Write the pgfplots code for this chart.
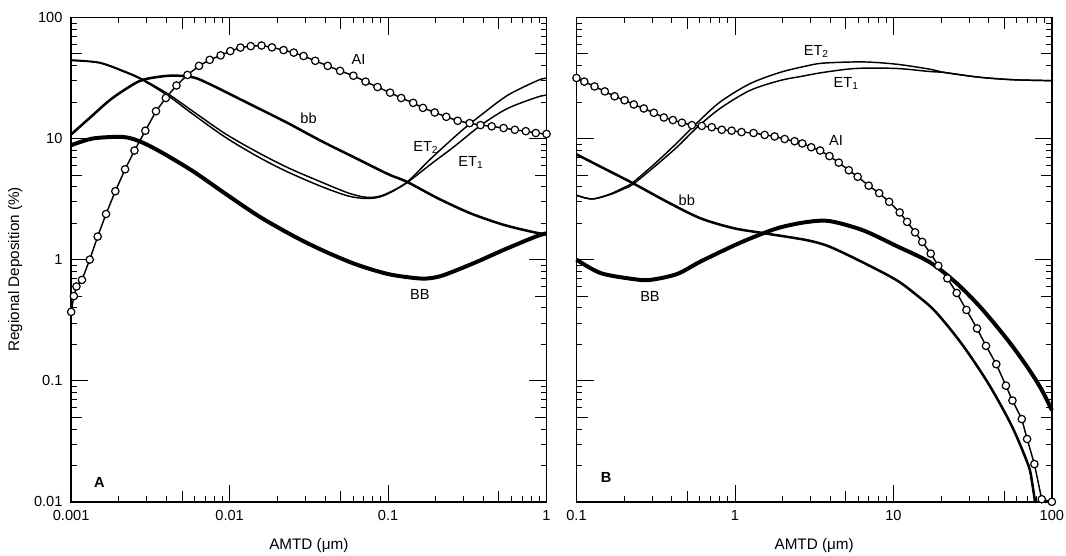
\documentclass[border=0pt]{standalone}
\usepackage{fontspec}
\setmainfont{Liberation Sans}
\usepackage{pgfplots}
\pgfplotsset{compat=1.18}
\pgfplotsset{
  panel/.style={
    scale only axis, width=358.1pt, height=364.9pt, anchor=south west,
    ymin=0.01, ymax=100,
    clip=false,
    axis line style={line width=1.3pt, black},
    tick align=inside,
    major tick length=13pt, minor tick length=4.5pt,
    tick style={line width=0.6pt, black},
    ytick={0.01,0.1,1,10,100},
    extra y ticks={0.05,0.5,5,50},
    extra y tick labels={},
    extra y tick style={major tick length=8.5pt},
    tick label style={font=\fontsize{11}{13}\selectfont},
    label style={font=\fontsize{11.5}{13}\selectfont},
    xlabel={AMTD (μm)},
    xlabel style={at={(axis description cs:0.5,-0.0904)}, anchor=center},
    xticklabel style={yshift=-3pt},
    yticklabel style={xshift=-3pt},
  },
  BBs/.style={black, line width=3pt, smooth, tension=0.5},
  bbs/.style={black, line width=1.9pt, smooth, tension=0.5},
  ETs/.style={black, line width=1.1pt, smooth, tension=0.5},
  AIs/.style={black, line width=1.1pt, mark=*, mark size=2.8pt,
     mark options={fill=white, draw=black, line width=0.9pt}},
}
\tikzset{lab/.style={font=\fontsize{11}{13}\selectfont}}
\begin{document}
\begin{tikzpicture}
% ---------------- Panel A ----------------
\begin{loglogaxis}[panel, at={(53.6pt,40.5pt)},
  xmin=0.001, xmax=1,
  xtick={0.001,0.01,0.1,1}, xticklabels={0.001,0.01,0.1,1},
  extra x ticks={0.005,0.05,0.5}, extra x tick labels={},
  extra x tick style={major tick length=8.5pt},
  yticklabels={0.01,0.1,1,10,100},
  ylabel={Regional Deposition (\%)},
  ylabel style={at={(axis description cs:-0.118,0.48)}, anchor=center},
]
% BB
\addplot[BBs] coordinates {
(0.001,8.8) (0.00137,10.0) (0.00211,10.3) (0.00269,9.5) (0.0036,7.87)
(0.00582,5.41) (0.00944,3.49) (0.0153,2.28) (0.025,1.58) (0.0382,1.2)
(0.0618,0.92) (0.1,0.76) (0.155,0.70) (0.188,0.705) (0.228,0.75)
(0.351,0.94) (0.542,1.21) (0.855,1.55) (1,1.65)};
% bb
\addplot[bbs] coordinates {
(0.001,10.8) (0.00137,15.6) (0.00175,20.7) (0.00222,25.7) (0.00283,30.5)
(0.00416,33.0) (0.00582,32.1) (0.00742,28.3) (0.012,20.7) (0.0195,15.1)
(0.0236,13.3) (0.0382,9.48) (0.0618,6.94) (0.1,5.08) (0.131,4.4)
(0.207,3.2) (0.334,2.40) (0.542,1.93) (0.855,1.67) (1,1.62)};
% ET2
\addplot[ETs] coordinates {
(0.001,44.5) (0.00151,42.5) (0.00222,35.5) (0.00283,30.8) (0.00416,23.0)
(0.00582,16.9) (0.00944,10.9) (0.0153,7.6) (0.0236,5.7) (0.0382,4.35)
(0.0561,3.55) (0.0714,3.28) (0.085,3.3) (0.1,3.55) (0.131,4.34) (0.188,6.9)
(0.289,11.5) (0.386,15.6) (0.567,22.7) (0.877,30.1) (1,31.5)};
% ET1
\addplot[ETs] coordinates {
(0.001,44) (0.00151,42) (0.00222,35) (0.00283,30.3) (0.00416,22.2)
(0.00582,16.0) (0.00944,10.2) (0.0153,7.0) (0.0236,5.25) (0.0382,4.0)
(0.0561,3.35) (0.0714,3.2) (0.085,3.25) (0.1,3.5) (0.131,4.3) (0.188,6.2)
(0.262,8.6) (0.386,12.9) (0.567,17.7) (0.877,22.0) (1,22.8)};
% AI
\addplot[AIs] coordinates {
(0.001,0.37) (0.00104,0.5) (0.00108,0.6) (0.00117,0.68) (0.00131,1.0)
(0.00147,1.55) (0.00166,2.38) (0.0019,3.67) (0.00219,5.57) (0.00251,7.96)
(0.00294,11.6) (0.00343,16.8) (0.00396,21.6) (0.00462,27.4) (0.00542,33.5)
(0.00641,39.8) (0.00749,44.6) (0.00878,48.6) (0.0101,52.7) (0.0117,56.3)
(0.0136,57.9) (0.0159,58.6) (0.0185,56.6) (0.0219,53.7) (0.0254,51.2)
(0.0293,48.0) (0.0347,43.8) (0.0416,39.8) (0.0498,36.2) (0.0604,33.0)
(0.0721,29.5) (0.0858,26.6) (0.103,23.9) (0.121,21.6) (0.144,19.7)
(0.166,17.9) (0.197,16.4) (0.233,15.1) (0.275,14.0) (0.327,13.4)
(0.383,12.9) (0.451,12.6) (0.536,12.2) (0.631,11.8) (0.740,11.5)
(0.855,11.1) (1,10.9)};
\node[lab] at (axis cs:0.065,45.1) {AI};
\node[lab] at (axis cs:0.0315,14.7) {bb};
\node[lab] at (axis cs:0.173,8.4) {ET\textsubscript{2}};
\node[lab] at (axis cs:0.333,6.3) {ET\textsubscript{1}};
\node[lab] at (axis cs:0.159,0.515) {BB};
\node[font=\bfseries\fontsize{11}{13}\selectfont] at (axis cs:0.00151,0.0144) {A};
\end{loglogaxis}
% ---------------- Panel B ----------------
\begin{loglogaxis}[panel, at={(434.25pt,40.5pt)},
  xmin=0.1, xmax=100,
  xtick={0.1,1,10,100}, xticklabels={0.1,1,10,100},
  extra x ticks={0.5,5,50}, extra x tick labels={},
  extra x tick style={major tick length=8.5pt},
  yticklabels={},
]
% BB
\addplot[BBs] coordinates {
(0.1,1.0) (0.142,0.774) (0.23,0.69) (0.293,0.68) (0.431,0.76) (0.603,0.96)
(0.977,1.3) (1.37,1.57) (1.92,1.84) (2.82,2.04) (3.95,2.08) (6.4,1.75)
(10.4,1.3) (17,0.95) (25,0.64) (34.5,0.42) (44,0.29) (56,0.195)
(71.1,0.126) (86.3,0.084) (100,0.057)};
% bb
\addplot[bbs] coordinates {
(0.1,7.4) (0.142,5.85) (0.225,4.3) (0.373,3.0) (0.603,2.2) (0.977,1.82)
(1.58,1.64) (2.82,1.45) (3.95,1.28) (6.4,0.95) (10.4,0.68) (14,0.51)
(18.5,0.37) (27.1,0.2) (39.9,0.094) (56,0.042) (71.1,0.02) (75,0.0145) (78.3,0.01)};
% ET2
\addplot[ETs] coordinates {
(0.1,3.4) (0.115,3.22) (0.13,3.18) (0.164,3.49) (0.2,3.95) (0.225,4.3)
(0.308,6.1) (0.431,9.2) (0.575,13.4) (0.805,20.0) (1.24,28.3) (1.92,35.1)
(2.75,39.4) (3.59,41.9) (6.4,42.9) (10.4,41.1) (16.7,37.5) (21.3,35.0)
(34.5,32.1) (56,30.6) (90.6,30.1) (100,30)};
% ET1
\addplot[ETs] coordinates {
(0.1,3.4) (0.115,3.22) (0.13,3.18) (0.164,3.45) (0.2,3.85) (0.225,4.15)
(0.308,5.8) (0.431,8.5) (0.575,12.3) (0.805,17.7) (1.24,24.9) (1.92,30.1)
(2.6,32.5) (3.59,35.1) (5.81,37.9) (10.4,37.9) (16.7,35.8) (21.3,35.0)
(34.5,32.1) (56,30.6) (90.6,30.1) (100,30)};
% AI
\addplot[AIs] coordinates {
(0.1,31.6) (0.112,29.5) (0.130,26.9) (0.151,24.5) (0.174,22.3) (0.201,20.7)
(0.230,19.1) (0.266,17.7) (0.308,16.3) (0.356,14.9) (0.406,14.2) (0.463,13.5)
(0.535,12.9) (0.618,12.7) (0.714,12.4) (0.826,11.8) (0.953,11.6) (1.10,11.3)
(1.31,11.1) (1.54,10.7) (1.78,10.4) (2.06,9.9) (2.38,9.5) (2.66,9.1)
(3.03,8.47) (3.45,7.96) (3.95,7.16) (4.52,6.32) (5.23,5.47) (5.95,4.83)
(6.98,4.08) (8.13,3.54) (9.40,3.0) (10.96,2.45) (12.2,2.05) (13.7,1.68)
(15.2,1.40) (17.2,1.12) (19.2,0.89) (21.9,0.70) (25.1,0.53) (28.9,0.384)
(33.7,0.27) (38.4,0.194) (44.6,0.137) (51.3,0.091) (56.4,0.0686) (64.6,0.0482)
(69.8,0.033) (77.6,0.0205) (86.3,0.0105) (100,0.01)};
\node[lab] at (axis cs:3.26,52.7) {ET\textsubscript{2}};
\node[lab] at (axis cs:5.03,28.3) {ET\textsubscript{1}};
\node[lab] at (axis cs:4.35,9.55) {AI};
\node[lab] at (axis cs:0.497,3.1) {bb};
\node[lab] at (axis cs:0.291,0.495) {BB};
\node[font=\bfseries\fontsize{11}{13}\selectfont] at (axis cs:0.154,0.0158) {B};
\end{loglogaxis}
\pgfresetboundingbox
\path[use as bounding box] (0,0) rectangle (803pt,418.5pt);
\end{tikzpicture}
\end{document}
